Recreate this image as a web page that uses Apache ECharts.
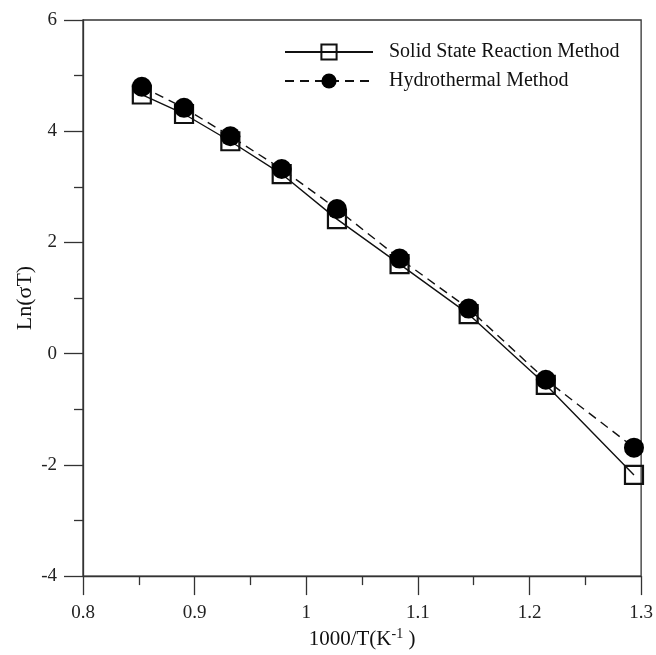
<!DOCTYPE html>
<html>
<head>
<meta charset="utf-8">
<script src="https://cdn.jsdelivr.net/npm/echarts@6/dist/echarts.min.js"></script>
<style>html,body{margin:0;padding:0;background:#fff;}#c{width:656px;height:655px;}</style>
</head>
<body>
<div id="c"></div>
<script>
const xValues = [0.8527, 0.8905, 0.932, 0.978, 1.0275, 1.0836, 1.1455, 1.2146, 1.2936];
const solidState = [4.66, 4.31, 3.82, 3.23, 2.42, 1.61, 0.71, -0.56, -2.18];
const hydrothermal = [4.80, 4.42, 3.91, 3.32, 2.60, 1.71, 0.81, -0.47, -1.69];
const seriesNames = ['Solid State Reaction Method', 'Hydrothermal Method'];

const FONT = 'Liberation Serif';
const chart = echarts.init(document.getElementById('c'));
const pair = (ys) => xValues.map((x, i) => [x, ys[i]]);

chart.setOption({
  animation: false,
  backgroundColor: '#fff',
  grid: { left: 83, right: 13, top: 20, bottom: 76, show: true, borderColor: '#333', borderWidth: 1.3, backgroundColor: 'transparent' },
  legend: {
    orient: 'vertical', left: 279, top: 37, itemWidth: 88, itemHeight: 19, itemGap: 9,
    textStyle: { fontFamily: FONT, fontSize: 20, color: '#111', padding: [0, 0, 0, 11] },
    data: seriesNames
  },
  xAxis: {
    type: 'value', min: 0.8, max: 1.3, interval: 0.1,
    axisLine: { onZero: false, lineStyle: { color: '#333', width: 1.3 } },
    axisTick: { length: 19, lineStyle: { color: '#333', width: 1.3 } },
    minorTick: { show: true, splitNumber: 2, length: 9, lineStyle: { color: '#333', width: 1.3 } },
    splitLine: { show: false },
    axisLabel: { margin: 27, fontFamily: FONT, fontSize: 19, color: '#222' },
    name: '{a|1000/T(K}{s|-1}{a| )}', nameLocation: 'middle', nameGap: 44,
    nameTextStyle: { rich: { a: { fontFamily: FONT, fontSize: 21, color: '#111', verticalAlign: 'bottom' }, s: { fontFamily: FONT, fontSize: 14, color: '#111', verticalAlign: 'top', padding: [0, 0, 9, 0] } } }
  },
  yAxis: {
    type: 'value', min: -4, max: 6, interval: 2,
    axisLine: { onZero: false, lineStyle: { color: '#333', width: 1.3 } },
    axisTick: { length: 19, lineStyle: { color: '#333', width: 1.3 } },
    minorTick: { show: true, splitNumber: 2, length: 9, lineStyle: { color: '#333', width: 1.3 } },
    splitLine: { show: false },
    axisLabel: { margin: 26, fontFamily: FONT, fontSize: 19, color: '#222' },
    name: 'Ln(σT)', nameLocation: 'middle', nameGap: 47, nameMoveOverlap: false,
    nameTextStyle: { fontFamily: FONT, fontSize: 22, color: '#111' }
  },
  series: [
    {
      name: seriesNames[0], type: 'line', data: pair(solidState),
      symbol: 'rect', symbolSize: 18,
      lineStyle: { color: '#111', width: 1.4, type: 'solid' },
      itemStyle: { color: 'transparent', borderColor: '#111', borderWidth: 2.2 },
      z: 2
    },
    {
      name: seriesNames[1], type: 'line', data: pair(hydrothermal),
      symbol: 'circle', symbolSize: 20,
      lineStyle: { color: '#111', width: 1.4, type: [9, 6] },
      itemStyle: { color: '#000', borderColor: '#000', borderWidth: 0 },
      z: 3
    }
  ]
});
</script>
</body>
</html>
